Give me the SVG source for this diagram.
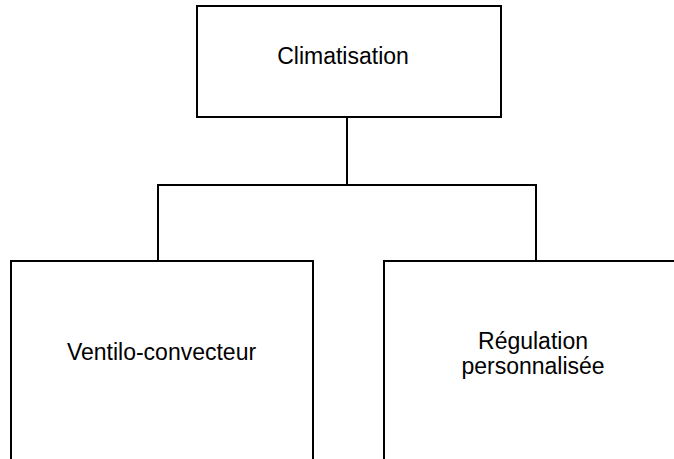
<svg xmlns="http://www.w3.org/2000/svg" width="674" height="459" viewBox="0 0 674 459">
<style>
.box{fill:#fff;stroke:#000;stroke-width:2}
.ln{fill:none;stroke:#000;stroke-width:2}
text{font-family:"Liberation Sans",Arial,sans-serif;font-size:23px;fill:#000}
</style>
<rect width="674" height="459" fill="#fff"/>
<g id="connectors">
<path class="ln" d="M347,117 V185 M157,185 H537 M158,185 V261 M536,185 V261"/>
</g>
<g id="climatisation">
<rect class="box" x="197" y="6" width="304" height="111"/>
<text x="343" y="64" text-anchor="middle">Climatisation</text>
</g>
<g id="ventilo">
<rect class="box" x="11" y="261" width="302" height="220"/>
<text x="161.5" y="360" text-anchor="middle">Ventilo-convecteur</text>
</g>
<g id="regulation">
<rect class="box" x="384" y="261" width="310" height="220"/>
<text x="533" y="349" text-anchor="middle">Régulation</text>
<text x="533" y="374" text-anchor="middle">personnalisée</text>
</g>
</svg>
